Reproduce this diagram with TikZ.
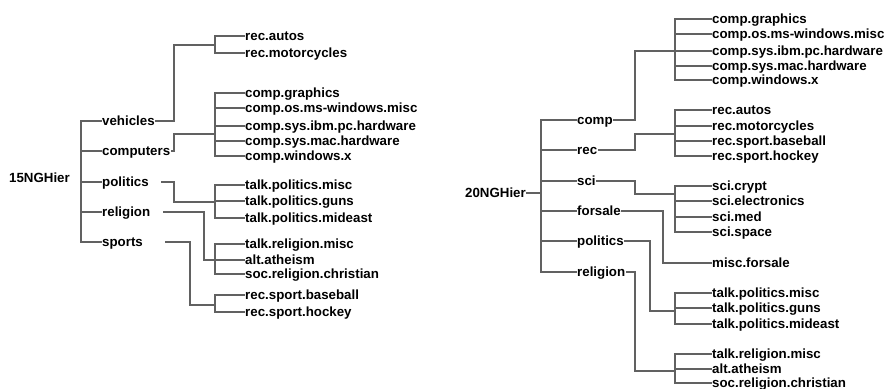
\documentclass[tikz,border=0pt]{standalone}
\usepackage{fontspec}
\setmainfont{Liberation Sans}

\tikzset{
  lbl/.style={anchor=west, inner sep=1pt, font=\bfseries\fontsize{13.3}{16}\selectfont,
    text height=9.5pt, text depth=0pt},
  conn/.style={draw=black!62, line width=1.1pt, line cap=rect},
}

\begin{document}
\begin{tikzpicture}[x=1pt, y=-1pt]
  \useasboundingbox (0,0) rectangle (888,388);
  % 15NGHier
  \node[lbl] (root15) at (8,178) {15NGHier};
  \coordinate (t15) at (81,0);
  \node[lbl] (vehicles) at (101,121) {vehicles};
  \node[lbl] (computers) at (101,151) {computers};
  \node[lbl] (politicsL) at (101,182) {politics};
  \node[lbl] (religionL) at (101,212) {religion};
  \node[lbl] (sports) at (101,242) {sports};
  \draw[conn] (t15 |- vehicles.west) -- (t15 |- sports.west);
  \foreach \c in {vehicles,computers,politicsL,religionL,sports}
    \draw[conn] (t15 |- \c.west) -- (\c.west);

  \node[lbl] (lautos) at (244,36) {rec.autos};
  \node[lbl] (lmoto) at (244,53) {rec.motorcycles};
  \node[lbl] (lgraph) at (244,93) {comp.graphics};
  \node[lbl] (lwin) at (244,108) {comp.os.ms-windows.misc};
  \node[lbl] (libm) at (244,126) {comp.sys.ibm.pc.hardware};
  \node[lbl] (lmac) at (244,141) {comp.sys.mac.hardware};
  \node[lbl] (lx) at (244,156) {comp.windows.x};
  \node[lbl] (lpmisc) at (244,185) {talk.politics.misc};
  \node[lbl] (lguns) at (244,201) {talk.politics.guns};
  \node[lbl] (lmid) at (244,218) {talk.politics.mideast};
  \node[lbl] (lrmisc) at (244,244) {talk.religion.misc};
  \node[lbl] (lath) at (244,260) {alt.atheism};
  \node[lbl] (lchr) at (244,274) {soc.religion.christian};
  \node[lbl] (lbase) at (244,295) {rec.sport.baseball};
  \node[lbl] (lhock) at (244,312) {rec.sport.hockey};

  \coordinate (jveh) at (215,45);
  \coordinate (jcomp) at (215,134);
  \coordinate (jpol) at (215,202);
  \coordinate (jrel) at (215,260);
  \coordinate (jspt) at (215,305);
  \draw[conn] (jveh |- lautos.west) -- (jveh |- lmoto.west);
  \draw[conn] (jveh |- lgraph.west) -- (jveh |- lx.west);
  \draw[conn] (jveh |- lpmisc.west) -- (jveh |- lmid.west);
  \draw[conn] (jveh |- lrmisc.west) -- (jveh |- lchr.west);
  \draw[conn] (jveh |- lbase.west) -- (jveh |- lhock.west);
  \foreach \l in {lautos,lmoto,lgraph,lwin,libm,lmac,lx,lpmisc,lguns,lmid,lrmisc,lath,lchr,lbase,lhock}
    \draw[conn] (jveh |- \l.west) -- (\l.west);

  \draw[conn] (vehicles.east) -| ([xshift=-41]jveh) -- (jveh);
  \draw[conn] (computers.east) -| ([xshift=-41]jcomp) -- (jcomp);
  \draw[conn] ([xshift=12]politicsL.east) -| ([xshift=-41]jpol) -- (jpol);
  \draw[conn] ([xshift=12]religionL.east) -| ([xshift=-11]jrel) -- (jrel);
  \draw[conn] ([xshift=22]sports.east) -| ([xshift=-25]jspt) -- (jspt);

  % 20NGHier
  \node[lbl] (root20) at (464,193) {20NGHier};
  \coordinate (t20) at (541,0);
  \node[lbl] (comp) at (576,120) {comp};
  \node[lbl] (rec) at (576,150) {rec};
  \node[lbl] (sci) at (576,181) {sci};
  \node[lbl] (forsale) at (576,211) {forsale};
  \node[lbl] (politicsR) at (576,241) {politics};
  \node[lbl] (religionR) at (576,272) {religion};
  \draw[conn] (root20.east) -- (t20 |- root20.east);
  \draw[conn] (t20 |- comp.west) -- (t20 |- religionR.west);
  \foreach \c in {comp,rec,sci,forsale,politicsR,religionR}
    \draw[conn] (t20 |- \c.west) -- (\c.west);

  \node[lbl] (rgraph) at (711,19) {comp.graphics};
  \node[lbl] (rwin) at (711,34) {comp.os.ms-windows.misc};
  \node[lbl] (ribm) at (711,51) {comp.sys.ibm.pc.hardware};
  \node[lbl] (rmac) at (711,66) {comp.sys.mac.hardware};
  \node[lbl] (rx) at (711,80) {comp.windows.x};
  \node[lbl] (rautos) at (711,110) {rec.autos};
  \node[lbl] (rmoto) at (711,126) {rec.motorcycles};
  \node[lbl] (rbase) at (711,141) {rec.sport.baseball};
  \node[lbl] (rhock) at (711,156) {rec.sport.hockey};
  \node[lbl] (rcrypt) at (711,186) {sci.crypt};
  \node[lbl] (relec) at (711,201) {sci.electronics};
  \node[lbl] (rmed) at (711,217) {sci.med};
  \node[lbl] (rspace) at (711,232) {sci.space};
  \node[lbl] (rfor) at (711,263) {misc.forsale};
  \node[lbl] (rpmisc) at (711,293) {talk.politics.misc};
  \node[lbl] (rguns) at (711,308) {talk.politics.guns};
  \node[lbl] (rmid) at (711,324) {talk.politics.mideast};
  \node[lbl] (rrmisc) at (711,354) {talk.religion.misc};
  \node[lbl] (rath) at (711,369) {alt.atheism};
  \node[lbl] (rchr) at (711,383) {soc.religion.christian};

  \coordinate (jcompr) at (675,51);
  \coordinate (jrecr) at (675,134);
  \coordinate (jsci) at (675,194);
  \coordinate (jpolr) at (675,311);
  \coordinate (jrelr) at (675,371);
  \draw[conn] (jcompr |- rgraph.west) -- (jcompr |- rx.west);
  \draw[conn] (jcompr |- rautos.west) -- (jcompr |- rhock.west);
  \draw[conn] (jcompr |- rcrypt.west) -- (jcompr |- rspace.west);
  \draw[conn] (jcompr |- rpmisc.west) -- (jcompr |- rmid.west);
  \draw[conn] (jcompr |- rrmisc.west) -- (jcompr |- rchr.west);
  \foreach \l in {rgraph,rwin,ribm,rmac,rx,rautos,rmoto,rbase,rhock,rcrypt,relec,rmed,rspace,rpmisc,rguns,rmid,rrmisc,rath,rchr}
    \draw[conn] (jcompr |- \l.west) -- (\l.west);

  \draw[conn] (comp.east) -| ([xshift=-40]jcompr) -- (jcompr);
  \draw[conn] (rec.east) -| ([xshift=-40]jrecr) -- (jrecr);
  \draw[conn] (sci.east) -| ([xshift=-40]jsci) -- (jsci);
  \draw[conn] (forsale.east) -| ([xshift=-48]rfor.west) -- (rfor.west);
  \draw[conn] (politicsR.east) -| ([xshift=-25]jpolr) -- (jpolr);
  \draw[conn] (religionR.east) -| ([xshift=-40]jrelr) -- (jrelr);
\end{tikzpicture}
\end{document}
